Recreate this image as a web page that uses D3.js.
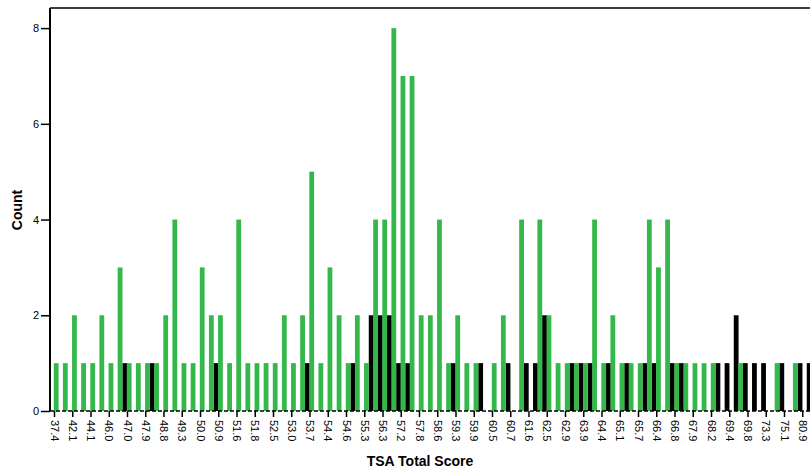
<!DOCTYPE html>
<html>
<head>
<meta charset="utf-8">
<script src="https://cdn.jsdelivr.net/npm/d3@7"></script>
<style>
body { margin: 0; background: #fff; }
text { font-family: "Liberation Sans", Arial, sans-serif; }
</style>
</head>
<body>
<svg id="svg_elem"></svg>
<script>
//define constants
const svgWidth = 810;
const svgHeight = 476;
const plotLeft = 50;
const plotTop = 8;
const baseY = 411;

//define data: one entry per score bin, labels shown for every other bin
const tickLabels = ['37.4','42.1','44.1','46.0','47.0','47.9','48.8','49.3','50.0','50.9',
	'51.6','51.8','52.5','53.0','53.7','54.4','54.6','55.3','56.3','57.2',
	'57.8','58.6','59.3','59.9','60.5','60.7','61.6','62.5','62.9','63.9',
	'64.4','65.1','65.7','66.4','66.8','67.9','68.2','69.4','69.8','73.3',
	'75.1','80.9'];
const greenCounts = [1,1,2,1,1,2,1,3,1,1, 1,1,2,4,1,1,3,2,2,1,
	4,1,1,1,1,2,1,2,5,1, 3,2,1,2,1,4,4,8,7,7,
	2,2,4,1,2,1,1,0,1,2, 0,4,0,4,2,1,1,1,1,4,
	1,2,1,1,1,4,3,4,1,1, 1,1,1,0,0,1,0,0,0,1,
	0,1,0,0];
const blackCounts = [0,0,0,0,0,0,0,0,1,0, 0,1,0,0,0,0,0,0,1,0,
	0,0,0,0,0,0,0,0,1,0, 0,0,0,1,0,2,2,2,1,1,
	0,0,0,0,1,0,0,1,0,0, 1,0,1,1,2,0,0,1,1,1,
	0,1,0,1,0,1,1,0,1,1, 0,0,0,1,1,2,1,1,1,0,
	1,0,1,1];
const bins = d3.range(greenCounts.length);

//configure svg window
var svg = d3.select('#svg_elem')
	.attr('width', svgWidth)
	.attr('height', svgHeight);

//define scales
var xScale = d3.scalePoint()
	.domain(bins)
	.range([54, 54 + 9.125 * (bins.length - 1)]);
var yScale = d3.scaleLinear()
	.domain([0, 8.42])
	.range([baseY, plotTop]);

//black bars, drawn first so green sits on top
svg.append('g').selectAll('rect')
	.data(bins.filter(i => blackCounts[i] > 0))
	.enter().append('rect')
	.attr('x', i => xScale(i) - 4.6)
	.attr('width', 4.8)
	.attr('y', i => yScale(blackCounts[i]))
	.attr('height', i => baseY - yScale(blackCounts[i]))
	.attr('fill', '#000');

//green bars
svg.append('g').selectAll('rect')
	.data(bins.filter(i => greenCounts[i] > 0))
	.enter().append('rect')
	.attr('x', i => xScale(i) - 0.2)
	.attr('width', 4.8)
	.attr('y', i => yScale(greenCounts[i]))
	.attr('height', i => baseY - yScale(greenCounts[i]))
	.attr('fill', '#35b84b');

//frame
svg.append('line')
	.attr('x1', plotLeft).attr('x2', svgWidth)
	.attr('y1', plotTop).attr('y2', plotTop)
	.attr('stroke', '#000').attr('stroke-width', 1.5);

//x axis
var xAxis = d3.axisBottom(xScale)
	.tickValues(bins.filter(i => i % 2 == 0 && i / 2 < tickLabels.length))
	.tickFormat(i => tickLabels[i / 2])
	.tickSizeOuter(0)
	.tickSize(6);
var gx = svg.append('g')
	.attr('transform', `translate(0, ${baseY})`)
	.call(xAxis);
gx.select('.domain').remove();
gx.selectAll('.tick line').attr('stroke-width', 1.5);
gx.selectAll('.tick text')
	.attr('font-size', 11)
	.attr('fill', '#000')
	.attr('transform', 'rotate(90)')
	.attr('x', 9)
	.attr('y', 0)
	.attr('dy', '0.35em')
	.style('text-anchor', 'start');
svg.append('line')
	.attr('x1', plotLeft).attr('x2', svgWidth)
	.attr('y1', baseY).attr('y2', baseY)
	.attr('stroke', '#000').attr('stroke-width', 1.5)
	.attr('stroke-dasharray', '4,2');

//y axis
var yAxis = d3.axisLeft(yScale)
	.tickValues([0, 2, 4, 6, 8])
	.tickSizeOuter(0)
	.tickSize(9)
	.tickPadding(2);
var gy = svg.append('g')
	.attr('transform', `translate(${plotLeft}, 0)`)
	.call(yAxis);
gy.select('.domain').remove();
gy.selectAll('.tick line').attr('stroke-width', 1.5);
gy.selectAll('.tick text').attr('font-size', 11).attr('fill', '#000');
svg.append('line')
	.attr('x1', plotLeft).attr('x2', plotLeft)
	.attr('y1', plotTop).attr('y2', baseY)
	.attr('stroke', '#000').attr('stroke-width', 2);

//axis labels
svg.append('text')
	.text('TSA Total Score')
	.attr('x', 420).attr('y', 466)
	.attr('text-anchor', 'middle')
	.attr('font-size', 14).attr('font-weight', 'bold');
svg.append('text')
	.text('Count')
	.attr('transform', `translate(22, 210) rotate(-90)`)
	.attr('text-anchor', 'middle')
	.attr('font-size', 14).attr('font-weight', 'bold');
</script>
</body>
</html>
